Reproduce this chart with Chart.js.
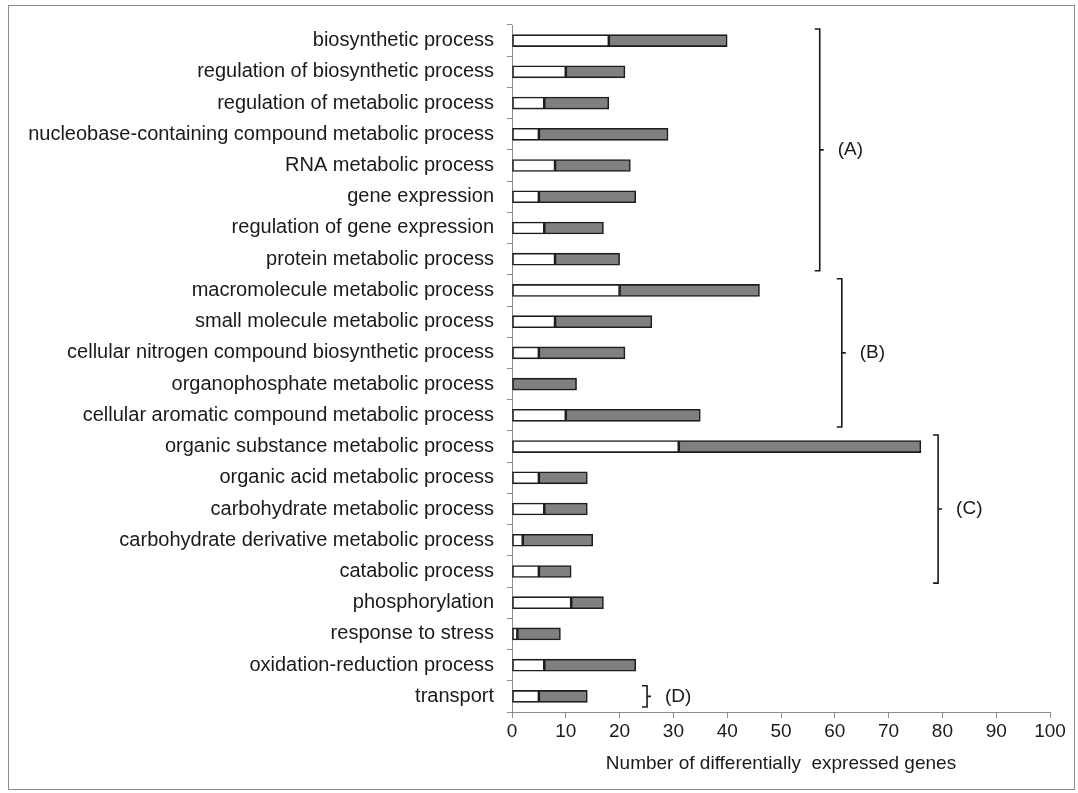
<!DOCTYPE html>
<html>
<head>
<meta charset="utf-8">
<script src="https://cdn.jsdelivr.net/npm/chart.js@4/dist/chart.umd.min.js"></script>
<style>
  html, body { margin: 0; padding: 0; background: #fff; }
  #wrap { position: relative; width: 1078px; height: 793px; }
  #frame { position: absolute; left: 8px; top: 5px; width: 1067px; height: 785px; border: 1px solid #8c8c8c; box-sizing: border-box; pointer-events: none; }
</style>
</head>
<body>
<div id="wrap">
  <canvas id="myCanvas" width="1078" height="793"></canvas>
  <div id="frame"></div>
</div>
<script>
// categories, top to bottom
let processes = [
    'biosynthetic process',
    'regulation of biosynthetic process',
    'regulation of metabolic process',
    'nucleobase-containing compound metabolic process',
    'RNA metabolic process',
    'gene expression',
    'regulation of gene expression',
    'protein metabolic process',
    'macromolecule metabolic process',
    'small molecule metabolic process',
    'cellular nitrogen compound biosynthetic process',
    'organophosphate metabolic process',
    'cellular aromatic compound metabolic process',
    'organic substance metabolic process',
    'organic acid metabolic process',
    'carbohydrate metabolic process',
    'carbohydrate derivative metabolic process',
    'catabolic process',
    'phosphorylation',
    'response to stress',
    'oxidation-reduction process',
    'transport'
];

// white part of each bar
let whiteCounts = [18, 10, 6, 5, 8, 5, 6, 8, 20, 8, 5, 0, 10, 31, 5, 6, 2, 5, 11, 1, 6, 5];
// grey part of each bar (stacked after the white one)
let greyCounts = [22, 11, 12, 24, 14, 18, 11, 12, 26, 18, 16, 12, 25, 45, 9, 8, 13, 6, 6, 8, 17, 9];

let xTicks = [0, 10, 20, 30, 40, 50, 60, 70, 80, 90, 100];
let xTitle = 'Number of differentially  expressed genes';

// bracket groups on the right
let groupLabels = ['(A)', '(B)', '(C)', '(D)'];
let groupFirst = [0, 8, 13, 21];
let groupLast = [7, 12, 17, 21];

function drawGoChart() {
    let canvas = document.getElementById("myCanvas");
    let ctx = canvas.getContext("2d");

    let textColor = '#1a1a1a';
    let axisColor = '#8c8c8c';
    let barEdge = '#1e1e1e';
    let fontFamily = '"Liberation Sans", Arial, sans-serif';

    // where each bracket sits, in x-axis units
    let bracketX = [57.2, 61.3, 79.2, 25.1];

    let brackets = {
        id: 'brackets',
        afterDraw(chart) {
            let xs = chart.scales.x;
            let ys = chart.scales.y;
            let c = chart.ctx;
            let half = (ys.getPixelForValue(1) - ys.getPixelForValue(0)) / 2;
            c.save();
            c.strokeStyle = '#1a1a1a';
            c.lineWidth = 1.6;
            c.fillStyle = textColor;
            c.font = '19px ' + fontFamily;
            c.textAlign = 'left';
            c.textBaseline = 'middle';
            for (let i = 0; i < groupLabels.length; i++) {
                let x = xs.getPixelForValue(bracketX[i]);
                let inset = groupFirst[i] === groupLast[i] ? 5 : 4;
                let y1 = ys.getPixelForValue(groupFirst[i]) - half + inset;
                let y2 = ys.getPixelForValue(groupLast[i]) + half - inset;
                let ym = (y1 + y2) / 2;
                c.beginPath();
                c.moveTo(x - 5, y1);
                c.lineTo(x, y1);
                c.lineTo(x, y2);
                c.lineTo(x - 5, y2);
                c.moveTo(x, ym);
                c.lineTo(x + 4, ym);
                c.stroke();
                c.fillText(groupLabels[i], x + 18, ym);
            }
            c.restore();
        }
    };

    new Chart(ctx, {
        type: 'bar',
        data: {
            labels: processes,
            datasets: [{
                label: 'white',
                data: whiteCounts,
                backgroundColor: '#ffffff',
                borderColor: barEdge,
                borderWidth: 1.6,
                borderSkipped: false
            }, {
                label: 'grey',
                data: greyCounts,
                backgroundColor: '#808080',
                borderColor: barEdge,
                borderWidth: 1.6,
                borderSkipped: false
            }]
        },
        options: {
            indexAxis: 'y',
            responsive: false,
            animation: false,
            barThickness: 12,
            layout: {
                padding: { left: 0, right: 28, top: 23, bottom: 18 }
            },
            plugins: {
                legend: { display: false },
                tooltip: { enabled: false }
            },
            scales: {
                x: {
                    stacked: true,
                    min: 0,
                    max: 100,
                    afterBuildTicks: (scale) => { scale.ticks = xTicks.map(v => ({ value: v })); },
                    afterFit: (scale) => { scale.height = 63; },
                    border: { color: axisColor, width: 1 },
                    grid: { drawOnChartArea: false, color: axisColor, tickLength: 6 },
                    ticks: { color: textColor, font: { family: fontFamily, size: 19 }, padding: 2, maxRotation: 0 },
                    title: {
                        display: true,
                        text: xTitle,
                        color: textColor,
                        font: { family: fontFamily, size: 19 },
                        padding: 0
                    }
                },
                y: {
                    stacked: true,
                    afterFit: (scale) => { scale.width = 512; },
                    border: { color: axisColor, width: 1 },
                    grid: { drawOnChartArea: false, color: axisColor, tickLength: 5, offset: true },
                    ticks: { color: textColor, font: { family: fontFamily, size: 20 }, padding: 13, autoSkip: false }
                }
            }
        },
        plugins: [brackets]
    });
}

drawGoChart();
</script>
</body>
</html>
